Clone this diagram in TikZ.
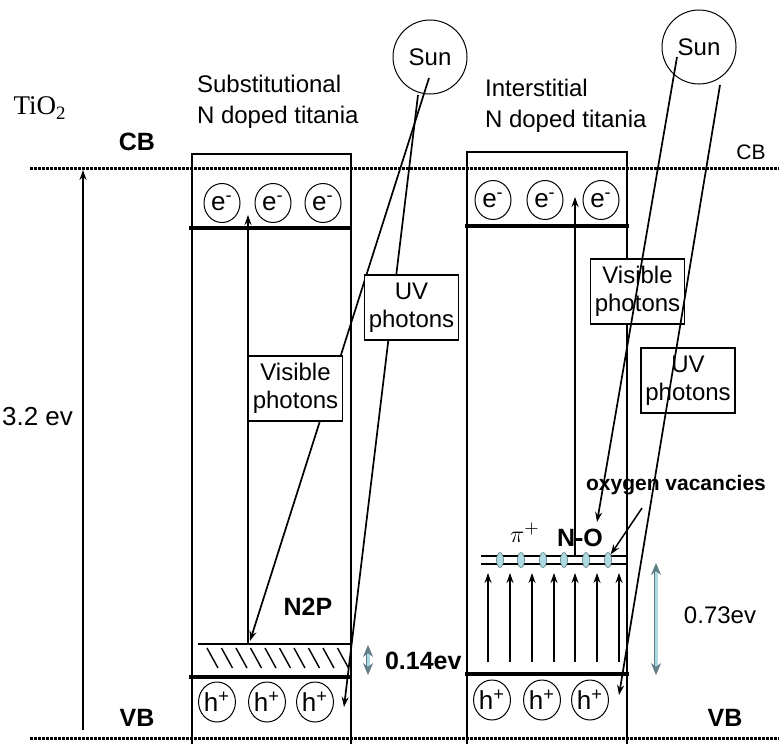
\documentclass[tikz,border=0pt]{standalone}
\usepackage{fontspec}
\setmainfont{Liberation Sans}
\newfontfamily\serifface{Liberation Serif}
\usetikzlibrary{arrows.meta, positioning, calc, shapes.geometric}
\definecolor{paleblue}{RGB}{172,218,224}
\definecolor{edgeblue}{RGB}{95,125,135}

\begin{document}
\begin{tikzpicture}[
  x=0.5pt, y=-0.5pt,
  font=\fontsize{12}{15.5}\selectfont,
  photonbox/.style={draw, fill=white, line width=0.7pt, align=center, minimum width=47pt, minimum height=32.5pt, inner sep=1pt, font=\fontsize{12}{14}\selectfont},
  carrier/.style={ellipse, draw, line width=0.5pt, minimum width=18pt, minimum height=19.5pt, inner sep=0pt, font=\fontsize{13}{13}\selectfont},
  sunball/.style={circle, draw, line width=0.5pt, minimum size=37pt, font=\fontsize{12}{12}\selectfont},
  site/.style={ellipse, draw=edgeblue, fill=paleblue, line width=0.3pt, minimum width=3.5pt, minimum height=7.5pt, inner sep=0pt},
  bandtext/.style={font=\bfseries\fontsize{12.5}{14}\selectfont},
  celledge/.style={line width=0.7pt},
  levelline/.style={line width=1.6pt},
  bandedge/.style={line width=1.5pt, dash pattern=on 1.4pt off 0.6pt},
  arrow/.style={-{Stealth[length=5pt, width=3.5pt]}, line width=0.75pt},
  photon/.style={-{Stealth[length=5pt, width=3.5pt]}, line width=0.85pt},
  gaparrow/.style={draw=edgeblue, double=paleblue, double distance=1.5pt, line width=0.35pt, {Stealth[length=6pt, width=5pt]}-{Stealth[length=6pt, width=5pt]}}
]
  \useasboundingbox (0,0) rectangle (779,744);

  % band edges of TiO2
  \coordinate (cbW) at (30,168);
  \coordinate (cbE) at (779,168);
  \coordinate (vbW) at (30,738);
  \coordinate (vbE) at (779,738);
  \draw[bandedge] (cbW) -- (cbE);
  \draw[bandedge] (vbW) -- (vbE);

  \node (tio) at (40,108) {\serifface\fontsize{13.5}{14}\selectfont TiO\textsubscript{2}};
  \node[bandtext] (cbL) at (137,142) {CB};
  \node[font=\fontsize{10.5}{12}\selectfont] (cbR) at (751,152) {CB};
  \node[bandtext] (vbL) at (137,718) {VB};
  \node[bandtext] (vbR) at (725,718) {VB};

  \coordinate (gapbot) at (83,730);
  \coordinate (gaptop) at (83,170);
  \draw[arrow] (gapbot) -- (gaptop);
  \node[anchor=east, font=\fontsize{13}{14}\selectfont] (gapL) at (80,417) {3.2 ev};

  % substitutional cell
  \draw[celledge] (192,744) |- (351,154) -- (351,744);
  \draw[levelline] (189,228) -- (352,228);
  \draw[levelline] (189,677) -- (352,677);
  \draw[celledge] (198,644) -- (351,644);
  \foreach \i in {0,...,9}
    \draw[celledge] ({207+14.5*\i},648) -- ++(11,20);
  \node[anchor=west, align=left] (subst) at (190,102) {Substitutional\\N doped titania};
  \foreach \x/\n in {222/1,273/2,323/3}
    \node[carrier] (e\n) at (\x,203) {e\textsuperscript{-}};
  \foreach \x/\n in {217/1,267/2,315/3}
    \node[carrier, minimum height=20pt] (h\n) at (\x,702) {h\textsuperscript{+}};
  \coordinate (ntwolo) at (248,645);
  \coordinate (ntwohi) at (248,215);
  \draw[arrow] (ntwolo) -- (ntwohi);
  \node[bandtext] (ntwop) at (308,607) {N2P};
  \coordinate (gapAt) at (368,645);
  \coordinate (gapAb) at (368,675);
  \draw[gaparrow] (gapAt) -- (gapAb);
  \node[bandtext, anchor=west] (gapA) at (378,661) {0.14ev};

  \node[sunball] (sunL) at (430,57) {Sun};
  \coordinate (visLstart) at (429,78);
  \coordinate (visLend) at (250,641);
  \coordinate (uvLstart) at (418,95);
  \coordinate (uvLend) at (344,707);
  \draw[photon] (visLstart) -- (visLend);
  \draw[photon] (uvLstart) -- (uvLend);
  \node[photonbox] (visL) at (295.5,388.5) {Visible\\photons};
  \node[photonbox] (uvL) at (411.5,307.5) {UV\\photons};

  % interstitial cell
  \draw[celledge] (467,744) |- (627,152) -- (627,744);
  \draw[levelline] (465,226) -- (629,226);
  \draw[levelline] (465,674) -- (629,674);
  \node[anchor=west, align=left] (inter) at (478,106) {Interstitial\\N doped titania};
  \foreach \x/\n in {493/4,545/5,601/6}
    \node[carrier] (e\n) at (\x,200) {e\textsuperscript{-}};
  \foreach \x/\n in {492/4,542/5,590/6}
    \node[carrier, minimum height=20pt] (h\n) at (\x,700) {h\textsuperscript{+}};
  \coordinate (nolo) at (575,557);
  \coordinate (nohi) at (575,197);
  \draw[arrow] (nolo) -- (nohi);
  \draw[celledge] (481,556) -- (627,556);
  \draw[celledge] (481,564) -- (627,564);
  \foreach \x [count=\i] in {500,521,543,564,586,608}
    \node[site] (s\i) at (\x,560) {};
  \foreach \x [count=\i] in {488,510,532,554,575,597,619} {
    \coordinate (lo\i) at (\x,662);
    \coordinate (hi\i) at (\x,573);
    \draw[arrow] (lo\i) -- (hi\i);
  }
  \node[font=\fontsize{13}{14}\selectfont] (pi) at (525,533) {$\pi^+$};
  \node[bandtext] (no) at (580,538) {N-O};
  \node[font=\bfseries\fontsize{10.5}{12}\selectfont] (vac) at (676,485) {oxygen vacancies};
  \coordinate (vacstart) at (642,508);
  \draw[arrow] (vacstart) -- (s6.north east);
  \coordinate (gapBt) at (656,563);
  \coordinate (gapBb) at (656,675);
  \draw[gaparrow] (gapBt) -- (gapBb);
  \node (gapB) at (720,615) {0.73ev};

  \node[sunball] (sunR) at (699,47) {Sun};
  \node[photonbox] (visR) at (637.5,291.5) {Visible\\photons};
  \node[photonbox] (uvR) at (688,380.5) {UV\\photons};
  \coordinate (visRstart) at (677,57);
  \coordinate (visRend) at (597,522);
  \coordinate (uvRstart) at (720,85);
  \coordinate (uvRend) at (619,695);
  \draw[photon] (visRstart) -- (visRend);
  \draw[photon] (uvRstart) -- (uvRend);
\end{tikzpicture}
\end{document}
